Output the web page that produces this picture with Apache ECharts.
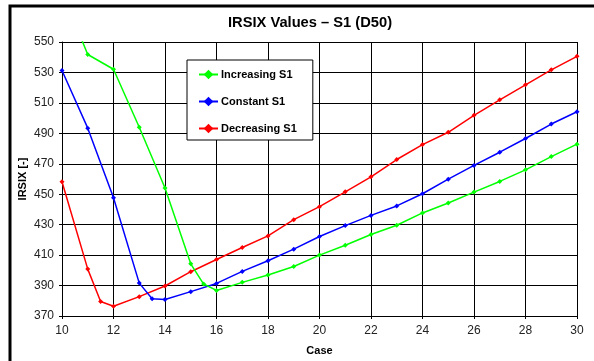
<!DOCTYPE html>
<html>
<head>
<meta charset="utf-8">
<script src="https://cdn.jsdelivr.net/npm/echarts@6/dist/echarts.min.js"></script>
<style>
html,body{margin:0;padding:0;background:#fff;}
#chart{width:594px;height:361px;}
</style>
</head>
<body>
<div id="chart"></div>
<script>
// Data
const titleText = 'IRSIX Values \u2013 S1 (D50)';
const xAxisName = 'Case';
const yAxisName = 'IRSIX [-]';

const incCases = [10, 11, 12, 13, 14, 15, 15.5, 16, 17, 18, 19, 20, 21, 22, 23, 24, 25, 26, 27, 28, 29, 30];
const incValues = [583, 541.8, 532.1, 494, 454.1, 404.3, 391, 386.8, 392.1, 396.9, 402.5, 410, 416.5, 423.5, 429.6, 437.7, 444.2, 451.4, 458.4, 466, 474.7, 482.9];

const conCases = [10, 11, 12, 13, 13.5, 14, 15, 16, 17, 18, 19, 20, 21, 22, 23, 24, 25, 26, 27, 28, 29, 30];
const conValues = [531.3, 493.4, 447.7, 391.6, 381.4, 380.8, 386, 391.4, 399.3, 406.3, 413.9, 422.2, 429.4, 436.1, 442.3, 450.3, 459.9, 468.9, 477.6, 486.6, 496.1, 504.2];

const decCases = [10, 11, 11.5, 12, 13, 14, 15, 16, 17, 18, 19, 20, 21, 22, 23, 24, 25, 26, 27, 28, 29, 30];
const decValues = [458.2, 400.8, 379.5, 376.4, 382.7, 389.7, 399.1, 407.1, 415, 422.6, 433.3, 441.8, 451.6, 461.4, 472.8, 482.6, 490.7, 501.8, 512, 521.9, 531.7, 540.6];

const seriesNames = ['Increasing S1', 'Constant S1', 'Decreasing S1'];
const seriesColors = ['#00ff00', '#0000ff', '#ff0000'];

const xMin = 10, xMax = 30, xStep = 2;
const yMin = 370, yMax = 550, yStep = 20;

function pairs(xs, ys) { return xs.map((x, i) => [x, ys[i]]); }
const seriesData = [pairs(incCases, incValues), pairs(conCases, conValues), pairs(decCases, decValues)];

const chart = echarts.init(document.getElementById('chart'), null, {renderer: 'canvas'});
const font = 'Liberation Sans, Arial, sans-serif';

chart.setOption({
  animation: false,
  backgroundColor: '#fff',
  textStyle: {fontFamily: font},
  title: {
    text: titleText,
    left: 305, top: 10, textAlign: 'center',
    textStyle: {fontFamily: font, fontWeight: 'bold', fontSize: 14.7, color: '#000'}
  },
  grid: {left: 62, right: 17, top: 42, bottom: 44, show: false},
  legend: {
    orient: 'vertical',
    left: 187, top: 60,
    padding: [9, 16, 6, 11],
    itemGap: 16,
    itemWidth: 19, itemHeight: 12,
    backgroundColor: '#fff',
    borderColor: '#000', borderWidth: 1,
    textStyle: {fontFamily: font, fontWeight: 'bold', fontSize: 11, color: '#000', padding: [0, 0, 0, -2]},
    data: seriesNames
  },
  xAxis: {
    type: 'value', min: xMin, max: xMax, interval: xStep,
    name: xAxisName, nameLocation: 'middle', nameGap: 29, nameMoveOverlap: false,
    nameTextStyle: {fontFamily: font, fontWeight: 'bold', fontSize: 11, color: '#000'},
    axisLine: {show: true, onZero: false, lineStyle: {color: '#000', width: 1}},
    axisTick: {show: true, length: 3, lineStyle: {color: '#000'}},
    axisLabel: {fontFamily: font, fontSize: 12, color: '#222', margin: 9},
    splitLine: {show: true, lineStyle: {color: '#000', width: 1}}
  },
  yAxis: {
    type: 'value', min: yMin, max: yMax, interval: yStep,
    name: yAxisName, nameLocation: 'middle', nameGap: 34, nameRotate: 90, nameMoveOverlap: false,
    nameTextStyle: {fontFamily: font, fontWeight: 'bold', fontSize: 11, color: '#000'},
    axisLine: {show: true, onZero: false, lineStyle: {color: '#000', width: 1}},
    axisTick: {show: true, length: 3, lineStyle: {color: '#000'}},
    axisLabel: {fontFamily: font, fontSize: 12, color: '#222', margin: 8},
    splitLine: {show: true, lineStyle: {color: '#000', width: 1}}
  },
  graphic: [
    {type: 'rect', left: 7.5, top: 3.5, shape: {x: 0, y: 0, width: 700, height: 500}, style: {fill: 'none', stroke: '#000', lineWidth: 3}, z: 100, silent: true}
  ],
  series: seriesNames.map((name, i) => ({
    name: name,
    type: 'line',
    data: seriesData[i],
    clip: true,
    symbol: 'diamond',
    symbolSize: 5,
    showSymbol: true,
    itemStyle: {color: seriesColors[i]},
    lineStyle: {color: seriesColors[i], width: 1.5},
    z: 3 - i
  }))
});
</script>
</body>
</html>
